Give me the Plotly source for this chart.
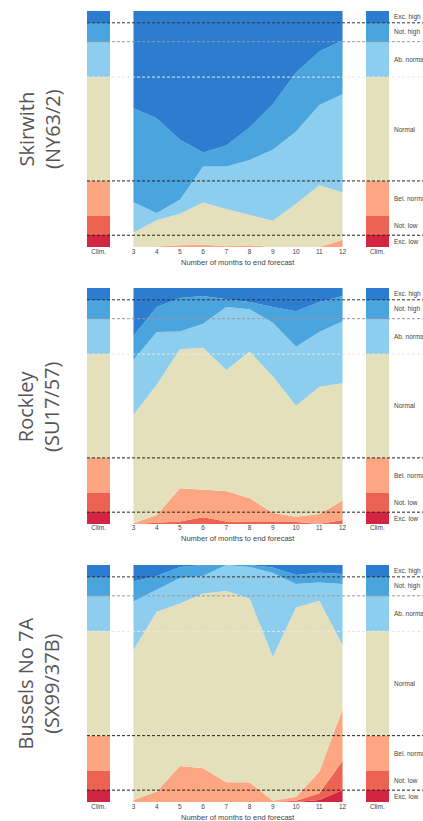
"""Stacked probability forecasts for three boreholes"""
from plotly.graph_objects import Scatter, Bar, Figure

months = [3, 4, 5, 6, 7, 8, 9, 10, 11, 12]
categories = ["Exc. low", "Not. low", "Bel. normal", "Normal",
              "Ab. normal", "Not. high", "Exc. high"]
colours = ["#d32541", "#ec6353", "#fca782", "#e5e0bc",
           "#8dcdee", "#4aa4dd", "#2c7dcf"]
clim = [0.05, 0.08, 0.15, 0.44, 0.15, 0.08, 0.05]

sites = ["Skirwith<br>(NY63/2)", "Rockley<br>(SU17/57)",
         "Bussels No 7A<br>(SX99/37B)"]

# probabilities per category (bottom to top), one list per month
skirwith = [
    [0, 0, 0, 0, 0, 0, 0, 0, 0, 0],
    [0, 0, 0, 0, 0, 0, 0, 0, 0, 0],
    [0, 0.002, 0.008, 0.010, 0.003, 0.008, 0, 0, 0, 0.031],
    [0.062, 0.111, 0.133, 0.179, 0.158, 0.129, 0.111, 0.183, 0.262, 0.201],
    [0.128, 0.031, 0.059, 0.152, 0.180, 0.232, 0.301, 0.307, 0.340, 0.415],
    [0.398, 0.402, 0.254, 0.059, 0.089, 0.137, 0.193, 0.249, 0.226, 0.228],
    [0.412, 0.454, 0.546, 0.600, 0.570, 0.494, 0.395, 0.261, 0.172, 0.125],
]
rockley = [
    [0, 0, 0, 0, 0, 0, 0, 0, 0, 0],
    [0, 0.006, 0.010, 0.028, 0.010, 0.008, 0.008, 0.008, 0, 0.017],
    [0.003, 0.032, 0.141, 0.119, 0.130, 0.101, 0.040, 0.023, 0.042, 0.082],
    [0.460, 0.552, 0.589, 0.600, 0.513, 0.622, 0.577, 0.470, 0.540, 0.497],
    [0.232, 0.224, 0.076, 0.102, 0.266, 0.179, 0.228, 0.250, 0.232, 0.263],
    [0.102, 0.105, 0.142, 0.117, 0.033, 0.031, 0.066, 0.150, 0.127, 0.107],
    [0.206, 0.081, 0.042, 0.034, 0.048, 0.059, 0.081, 0.099, 0.059, 0.034],
]
bussels = [
    [0, 0, 0, 0, 0, 0, 0, 0, 0.008, 0.051],
    [0, 0, 0, 0, 0, 0, 0, 0.005, 0.029, 0.122],
    [0.008, 0.044, 0.152, 0.142, 0.083, 0.083, 0.005, 0.017, 0.091, 0.218],
    [0.633, 0.759, 0.686, 0.738, 0.807, 0.776, 0.608, 0.799, 0.721, 0.271],
    [0.205, 0.092, 0.107, 0.074, 0.110, 0.133, 0.353, 0.099, 0.077, 0.258],
    [0.084, 0.059, 0.047, 0.046, 0, 0.008, 0.024, 0.038, 0.041, 0.042],
    [0.070, 0.046, 0.008, 0, 0, 0, 0.010, 0.042, 0.033, 0.038],
]
data = [skirwith, rockley, bussels]

tick_vals = [1.5] + months + [13.5]
tick_text = ["Clim."] + [str(m) for m in months] + ["Clim."]

# dashed thresholds: level, colour
thresholds = [(0.95, "#333"), (0.87, "#9a9a9a"), (0.72, "#e8e8e8"),
              (0.28, "#222"), (0.05, "#222")]

domains = [[0.7016, 1.0], [0.3515, 0.6498], [0.0, 0.2996]]
small = {"size": 6.5, "color": "#444", "family": "Arial"}


def main():
    fig = Figure()
    layout = {}
    for p in range(3):
        n = "" if p == 0 else str(p + 1)
        xa, ya = "x" + n, "y" + n
        for i, cat in enumerate(categories):
            fig.add_trace(Bar(x=[1.5, 13.5], y=[clim[i], clim[i]], width=1,
                              marker_color=colours[i], marker_line_width=0,
                              xaxis=xa, yaxis=ya, showlegend=False,
                              name=cat))
        for i, cat in enumerate(categories):
            fig.add_trace(Scatter(x=months, y=data[p][i], mode="lines",
                                  stackgroup="s" + str(p),
                                  line={"width": 0, "color": colours[i]},
                                  fillcolor=colours[i], xaxis=xa, yaxis=ya,
                                  showlegend=False, name=cat))
        layout["xaxis" + n] = {
            "domain": [0, 1], "range": [1, 14], "anchor": ya,
            "showgrid": False, "zeroline": False, "showline": False,
            "tickvals": tick_vals, "ticktext": tick_text, "ticks": "",
            "tickfont": small, "ticklabelstandoff": -1,
        }
        layout["yaxis" + n] = {
            "domain": domains[p], "range": [0, 1], "anchor": xa,
            "visible": False,
        }
        for level, col in thresholds:
            fig.add_shape(type="line", xref="paper", yref=ya, x0=0, x1=1.12,
                          y0=level, y1=level,
                          line={"color": col, "width": 1, "dash": "3px,2px"})
        base = 0
        for i, cat in enumerate(categories):
            fig.add_annotation(text=cat, xref="paper", yref=ya, x=1.01,
                               y=base + clim[i] / 2, xanchor="left",
                               showarrow=False, font=small)
            base += clim[i]
        fig.add_annotation(text="Number of months to end forecast",
                           xref="paper", yref="paper", x=0.5,
                           y=domains[p][0], yshift=-15, yanchor="middle",
                           showarrow=False,
                           font={"size": 7.5, "color": "#444",
                                 "family": "Arial"})
        fig.add_annotation(text=sites[p], xref="paper", yref="paper",
                           x=-0.159, y=sum(domains[p]) / 2, textangle=-90,
                           xanchor="center", yanchor="middle",
                           showarrow=False,
                           font={"size": 20, "color": "#555",
                                 "family": "Open Sans"})

    fig.update_layout(layout)
    fig.update_layout(width=423, height=821, barmode="stack", bargap=0,
                      plot_bgcolor="white", paper_bgcolor="white",
                      margin={"l": 87, "r": 34, "t": 11, "b": 19})
    # drop the page's default body margin so the figure fills the window
    fig.write_html("out.html", config={"displayModeBar": False},
                   post_script="document.body.style.margin='0';"
                               "document.body.style.overflow='hidden';")


if __name__ == "__main__":
    main()
